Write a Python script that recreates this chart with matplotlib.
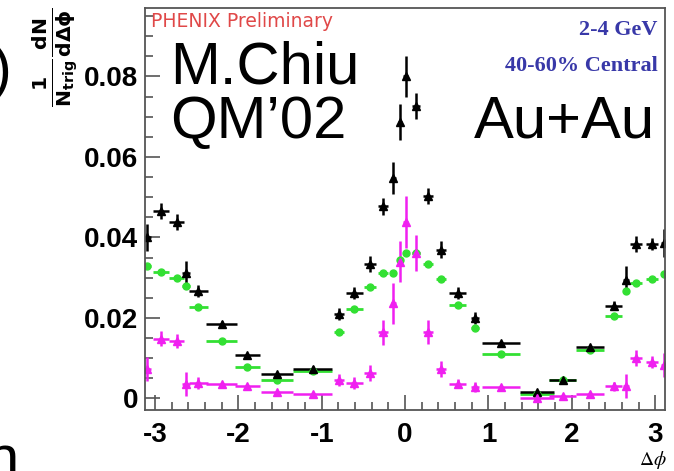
import matplotlib
matplotlib.use("Agg")
import matplotlib.pyplot as plt
from matplotlib.ticker import MultipleLocator

# bin centres in delta phi
dphi = [-3.09, -2.93, -2.74, -2.63, -2.48, -2.20, -1.89, -1.54, -1.11, -0.79,
        -0.61, -0.42, -0.27, -0.14, -0.06, 0.01, 0.13, 0.28, 0.43, 0.63,
        0.84, 1.15, 1.58, 1.89, 2.22, 2.50, 2.65, 2.77, 2.96, 3.11]
dphi_err = [0.04, 0.095, 0.09, 0.05, 0.116, 0.19, 0.155, 0.19, 0.23, 0.06,
            0.10, 0.07, 0.06, 0.03, 0.02, 0.03, 0.05, 0.06, 0.06, 0.10,
            0.05, 0.23, 0.20, 0.16, 0.17, 0.10, 0.04, 0.07, 0.07, 0.04]

# black triangles
total = [0.0400, 0.0466, 0.0438, 0.0311, 0.0266, 0.0184, 0.0108, 0.0060, 0.0074, 0.0210,
         0.0262, 0.0335, 0.0477, 0.0548, 0.0686, 0.0800, 0.0726, 0.0503, 0.0370, 0.0263,
         0.0200, 0.0137, 0.0016, 0.0047, 0.0128, 0.0231, 0.0294, 0.0384, 0.0384, 0.0387]
total_err = [0.0033, 0.0020, 0.0020, 0.0030, 0.0015, 0.0008, 0.0006, 0.0006, 0.0006, 0.0015,
             0.0015, 0.0020, 0.0020, 0.0040, 0.0045, 0.0050, 0.0032, 0.0020, 0.0020, 0.0015,
             0.0015, 0.0006, 0.0006, 0.0006, 0.0006, 0.0012, 0.0035, 0.0020, 0.0015, 0.0035]

# green points
flow = [0.0330, 0.0315, 0.0299, 0.0280, 0.0227, 0.0143, 0.0078, 0.0047, 0.0068, 0.0166,
        0.0222, 0.0278, 0.0312, 0.0312, 0.0345, 0.0362, 0.0362, 0.0335, 0.0296, 0.0233,
        0.0176, 0.0110, 0.0010, 0.0045, 0.0120, 0.0204, 0.0266, 0.0288, 0.0296, 0.0310]
flow_err = [0.0003] * 30

# magenta triangles
jet = [0.0074, 0.0149, 0.0143, 0.0037, 0.0039, 0.0037, 0.0030, 0.0016, 0.0010, 0.0045,
       0.0039, 0.0063, 0.0164, 0.0236, 0.0340, 0.0438, 0.0362, 0.0165, 0.0074, 0.0037,
       0.0029, 0.0029, 0.0002, 0.0007, 0.0010, 0.0030, 0.0031, 0.0100, 0.0090, 0.0083]
jet_err = [0.0030, 0.0018, 0.0018, 0.0030, 0.0015, 0.0003, 0.0003, 0.0003, 0.0003, 0.0015,
           0.0015, 0.0020, 0.0030, 0.0050, 0.0050, 0.0065, 0.0045, 0.0030, 0.0020, 0.0012,
           0.0012, 0.0003, 0.0003, 0.0003, 0.0003, 0.0012, 0.0030, 0.0020, 0.0015, 0.0030]

fig = plt.figure(figsize=(6.74, 4.71), dpi=100)
ax = fig.add_axes([0.215, 0.13, 0.772, 0.853])

ax.errorbar(dphi, flow, xerr=dphi_err, yerr=flow_err, fmt='o', color='#33e033',
            ms=5, lw=2, capsize=0)
ax.errorbar(dphi, total, xerr=dphi_err, yerr=total_err, fmt='^', color='black',
            ms=6, lw=1.8, capsize=0)
ax.errorbar(dphi, jet, xerr=dphi_err, yerr=jet_err, fmt='^', color='#f020f0',
            ms=5.5, lw=1.8, capsize=0)

ax.set_xlim(-3.12, 3.12)
ax.set_ylim(-0.0028, 0.097)
ax.xaxis.set_minor_locator(MultipleLocator(0.2))
ax.yaxis.set_minor_locator(MultipleLocator(0.005))
ax.set_yticks([0, 0.02, 0.04, 0.06, 0.08])
ax.set_yticklabels(['0', '0.02', '0.04', '0.06', '0.08'])
ax.set_xticks([-3, -2, -1, 0, 1, 2, 3])
ax.set_xticklabels(['-3', '-2', '-1', '0', '1', '2', '3'])
ax.tick_params(which='both', direction='in', color='#555555', top=False, right=False)
ax.tick_params(which='major', length=11, width=1.2)
ax.tick_params(which='minor', length=6, width=1.2)
ax.tick_params(axis='x', pad=9)
ax.tick_params(axis='y', pad=5)
for lab in ax.get_xticklabels() + ax.get_yticklabels():
    lab.set_family('Liberation Sans')
    lab.set_fontweight('bold')
    lab.set_fontsize(20)
for sp in ax.spines.values():
    sp.set_color('#555555')
    sp.set_linewidth(1.3)

# in-plot labels
ax.text(0.012, 0.99, 'PHENIX Preliminary', transform=ax.transAxes, color='#e04848',
        fontsize=13.5, va='top', ha='left')
ax.text(0.985, 0.97, '2-4 GeV', transform=ax.transAxes, color='#3838a8',
        family='Liberation Serif', fontweight='bold', fontsize=16, ha='right', va='top')
ax.text(0.985, 0.88, '40-60% Central', transform=ax.transAxes, color='#3838a8',
        family='Liberation Serif', fontweight='bold', fontsize=16, ha='right', va='top')

# big slide annotations
big = dict(family='Liberation Sans', fontsize=43, color='black', va='baseline')
fig.text(170 / 674, 1 - 83 / 471, 'M.Chiu', ha='left', **big)
fig.text(170 / 674, 1 - 138 / 471, 'QM\u201902', ha='left', **big)
fig.text(655 / 674, 1 - 138 / 471, 'Au+Au', ha='right', **big)
fig.text(-0.012, 1 - 88 / 471, ')', ha='left', **big)
fig.text(-0.022, -0.012, 'n', ha='left', **big)

# axis labels
fig.text(0.082, 1 - 57 / 471,
         r'$\mathbf{\frac{1}{N_{trig}}\frac{dN}{d\Delta\phi}}$',
         rotation=90, fontsize=21, ha='center', va='center')
fig.text(653 / 674, 1 - 460 / 471, r'$\Delta\phi$',
         fontsize=14, ha='center', va='center', math_fontfamily='stix')

fig.savefig('out.png', dpi=100)
